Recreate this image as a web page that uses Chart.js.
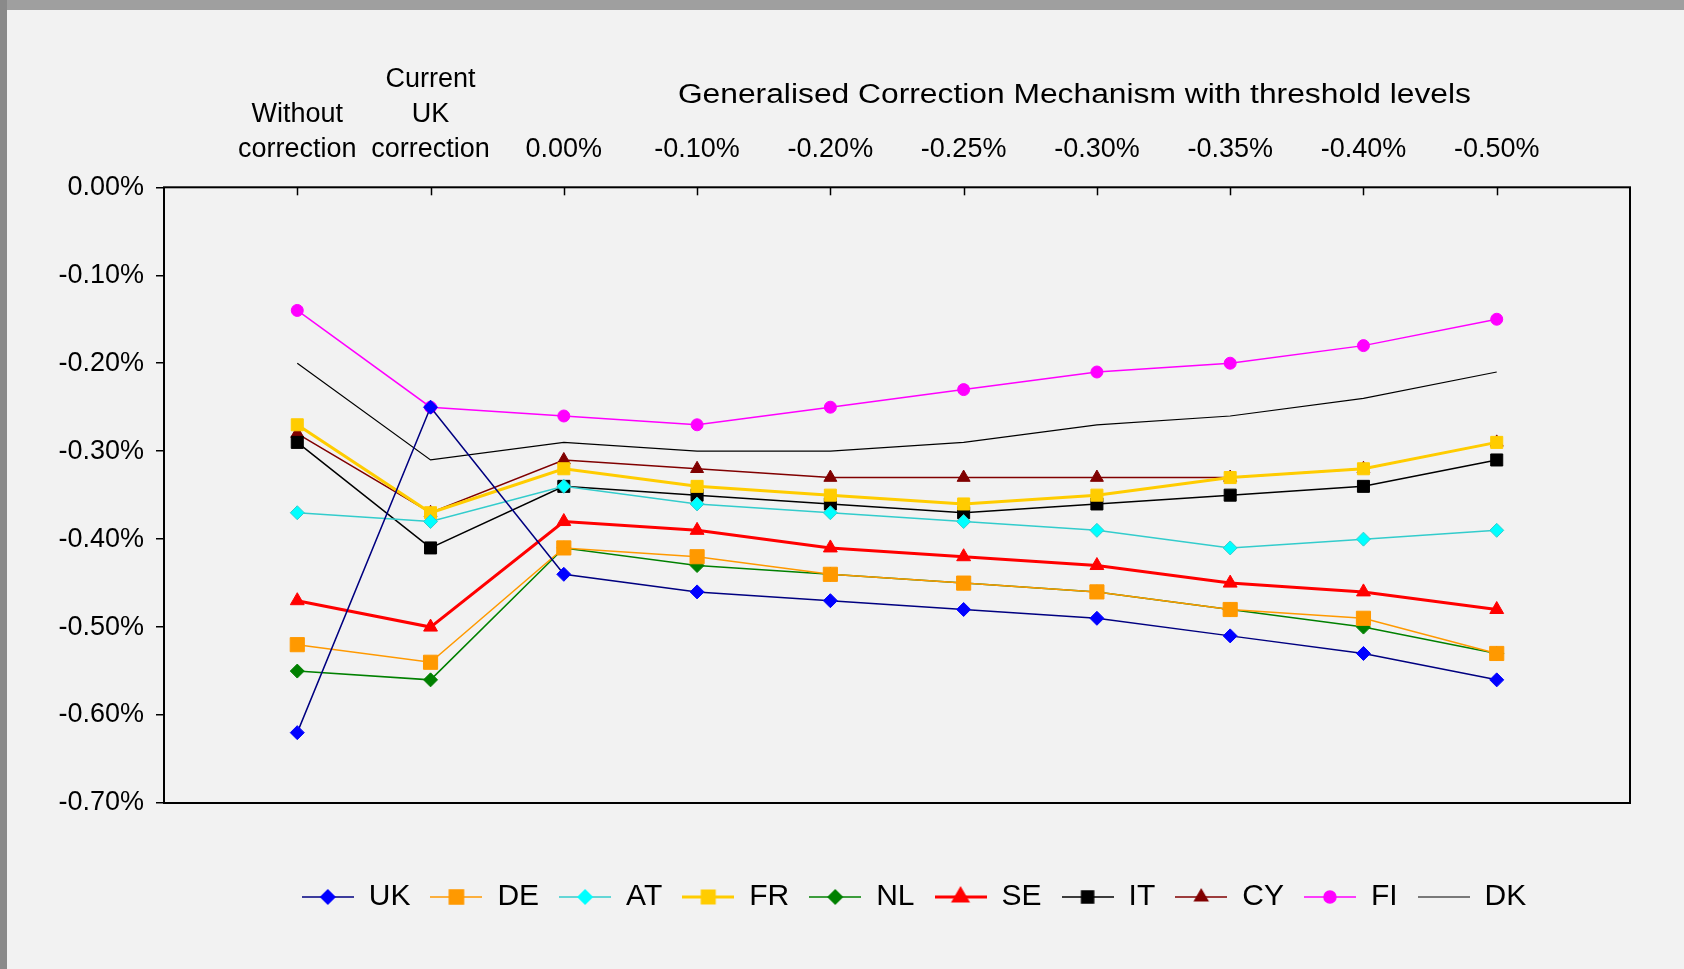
<!DOCTYPE html>
<html>
<head>
<meta charset="utf-8">
<script src="https://cdn.jsdelivr.net/npm/chart.js@4/dist/chart.umd.min.js"></script>
<style>
  html, body { margin: 0; padding: 0; }
  body { width: 1684px; height: 969px; background: #f2f2f2; position: relative; overflow: hidden; }
  .bar-top { position: absolute; left: 0; top: 0; width: 1684px; height: 10px; background: #9f9f9f; }
  .bar-left { position: absolute; left: 0; top: 0; width: 7px; height: 969px; background: #8a8a8a; }
  .wrap { position: absolute; left: 7px; top: 10px; width: 1677px; height: 959px; }
</style>
</head>
<body>
<div class="bar-top"></div>
<div class="bar-left"></div>
<div class="wrap"><canvas id="chart"></canvas></div>
<script>
// Categories along the top axis (multi-line labels as arrays)
const categories = [
    ['Without', 'correction'],
    ['Current', 'UK', 'correction'],
    '0.00%', '-0.10%', '-0.20%', '-0.25%', '-0.30%', '-0.35%', '-0.40%', '-0.50%'
];
const groupTitle = 'Generalised Correction Mechanism with threshold levels';

// Values in percent
const ukValues = [-0.62, -0.25, -0.44, -0.46, -0.47, -0.48, -0.49, -0.51, -0.53, -0.56];
const deValues = [-0.52, -0.54, -0.41, -0.42, -0.44, -0.45, -0.46, -0.48, -0.49, -0.53];
const atValues = [-0.37, -0.38, -0.34, -0.36, -0.37, -0.38, -0.39, -0.41, -0.40, -0.39];
const frValues = [-0.27, -0.37, -0.32, -0.34, -0.35, -0.36, -0.35, -0.33, -0.32, -0.29];
const nlValues = [-0.55, -0.56, -0.41, -0.43, -0.44, -0.45, -0.46, -0.48, -0.50, -0.53];
const seValues = [-0.47, -0.50, -0.38, -0.39, -0.41, -0.42, -0.43, -0.45, -0.46, -0.48];
const itValues = [-0.29, -0.41, -0.34, -0.35, -0.36, -0.37, -0.36, -0.35, -0.34, -0.31];
const cyValues = [-0.28, -0.37, -0.31, -0.32, -0.33, -0.33, -0.33, -0.33, -0.32, -0.29];
const fiValues = [-0.14, -0.25, -0.26, -0.27, -0.25, -0.23, -0.21, -0.20, -0.18, -0.15];
const dkValues = [-0.20, -0.31, -0.29, -0.30, -0.30, -0.29, -0.27, -0.26, -0.24, -0.21];

const Y_MIN = -0.7;
const Y_MAX = 0;
const Y_STEP = 0.1;

const FONT = "'Liberation Sans', Arial, sans-serif";

// name, values, line colour, marker colour, marker style, marker radius, line width
const series = [
    { name: 'UK', data: ukValues, line: '#000080', fill: '#0000ff', style: 'rectRot',  r: 7,   w: 1.5 },
    { name: 'DE', data: deValues, line: '#ff9900', fill: '#ff9900', style: 'rect',     r: 10,  w: 1.5 },
    { name: 'AT', data: atValues, line: '#33cccc', fill: '#00ffff', style: 'rectRot',  r: 7,   w: 1.5 },
    { name: 'FR', data: frValues, line: '#ffcc00', fill: '#ffcc00', style: 'rect',     r: 8.5, w: 3 },
    { name: 'NL', data: nlValues, line: '#008000', fill: '#008000', style: 'rectRot',  r: 7,   w: 1.5 },
    { name: 'SE', data: seValues, line: '#ff0000', fill: '#ff0000', style: 'triangle', r: 8,   w: 3 },
    { name: 'IT', data: itValues, line: '#000000', fill: '#000000', style: 'rect',     r: 8.5, w: 1.5 },
    { name: 'CY', data: cyValues, line: '#800000', fill: '#800000', style: 'triangle', r: 7.5, w: 1.5 },
    { name: 'FI', data: fiValues, line: '#ff00ff', fill: '#ff00ff', style: 'circle',   r: 6,   w: 1.5 },
    { name: 'DK', data: dkValues, line: '#000000', fill: null,      style: null,       r: 0,   w: 1.2 }
];

// empty slot at each end so the points sit one step in from the frame
const labels = [''].concat(categories, ['']);

function makeIcon(s) {
    const c = document.createElement('canvas');
    c.width = 52;
    c.height = 22;
    const g = c.getContext('2d');
    g.strokeStyle = s.line;
    g.lineWidth = s.w;
    g.beginPath();
    g.moveTo(0, 11);
    g.lineTo(52, 11);
    g.stroke();
    if (s.style) {
        g.fillStyle = s.fill;
        g.strokeStyle = s.fill;
        Chart.helpers.drawPoint(g, { pointStyle: s.style, radius: s.r, borderWidth: 1, rotation: 0 }, 26, 11);
    }
    return c;
}

const legendIcons = series.map(makeIcon);

// plot frame, inward ticks on the top axis, group title
const framePlugin = {
    id: 'frame',
    afterDraw(chart) {
        const { ctx, chartArea: a } = chart;
        const x = chart.scales.x;
        ctx.save();
        ctx.strokeStyle = '#000';
        ctx.lineWidth = 2;
        ctx.strokeRect(a.left, a.top, a.width, a.height);
        ctx.lineWidth = 1.5;
        x.ticks.forEach((t, i) => {
            if (t.label === '') return;
            const px = Math.round(x.getPixelForTick(i)) + 0.5;
            ctx.beginPath();
            ctx.moveTo(px, a.top);
            ctx.lineTo(px, a.top + 8);
            ctx.stroke();
        });

        ctx.font = '27px ' + FONT;
        ctx.fillStyle = '#000';
        ctx.textAlign = 'center';
        ctx.textBaseline = 'alphabetic';
        const w = ctx.measureText(groupTitle).width;
        ctx.translate(a.left + a.width * 0.621, a.top - 84);
        ctx.scale(793 / w, 1);
        ctx.fillText(groupTitle, 0, 0);
        ctx.restore();
    }
};

// move the legend row down and right, like the Excel original
const legendNudge = {
    id: 'legendNudge',
    afterLayout(chart) {
        const l = chart.legend;
        l.left += 17; l.right += 17;
        l.top += 59; l.bottom += 59;
    }
};

const ctx = document.getElementById('chart').getContext('2d');
new Chart(ctx, {
    type: 'line',
    data: {
        labels: labels,
        datasets: series.map(s => ({
            label: s.name,
            data: [null].concat(s.data, [null]),
            borderColor: s.line,
            borderWidth: s.w,
            backgroundColor: s.fill || s.line,
            pointStyle: s.style || 'circle',
            pointRadius: s.r,
            pointHoverRadius: s.r,
            pointBackgroundColor: s.fill || s.line,
            pointBorderColor: s.name === 'AT' ? s.line : (s.fill || s.line),
            pointBorderWidth: 1,
            tension: 0,
            fill: false
        }))
    },
    options: {
        responsive: true,
        maintainAspectRatio: false,
        animation: false,
        events: [],
        layout: { padding: { top: 40, right: 54, bottom: 106, left: 0 } },
        plugins: {
            title: { display: false },
            tooltip: { enabled: false },
            legend: {
                position: 'bottom',
                fullSize: false,
                labels: {
                    usePointStyle: true,
                    pointStyleWidth: 52,
                    padding: 20,
                    color: '#000',
                    font: { size: 30, family: FONT },
                    generateLabels(chart) {
                        const items = Chart.defaults.plugins.legend.labels.generateLabels(chart);
                        items.forEach(it => { it.pointStyle = legendIcons[it.datasetIndex]; });
                        return items;
                    }
                }
            }
        },
        scales: {
            x: {
                position: 'top',
                offset: false,
                grid: { display: false },
                border: { display: false },
                ticks: {
                    autoSkip: false,
                    maxRotation: 0,
                    minRotation: 0,
                    padding: 12,
                    color: '#000',
                    font: { size: 27, family: FONT, lineHeight: 1.3 }
                }
            },
            y: {
                min: Y_MIN,
                max: Y_MAX,
                afterFit(scale) { scale.width = 157; },
                grid: { drawOnChartArea: false, drawTicks: true, tickLength: 8, color: '#000', lineWidth: 1.5 },
                border: { display: false },
                ticks: {
                    stepSize: Y_STEP,
                    padding: 12,
                    color: '#000',
                    font: { size: 27, family: FONT },
                    callback: v => v.toFixed(2) + '%'
                }
            }
        }
    },
    plugins: [framePlugin, legendNudge]
});
</script>
</body>
</html>
